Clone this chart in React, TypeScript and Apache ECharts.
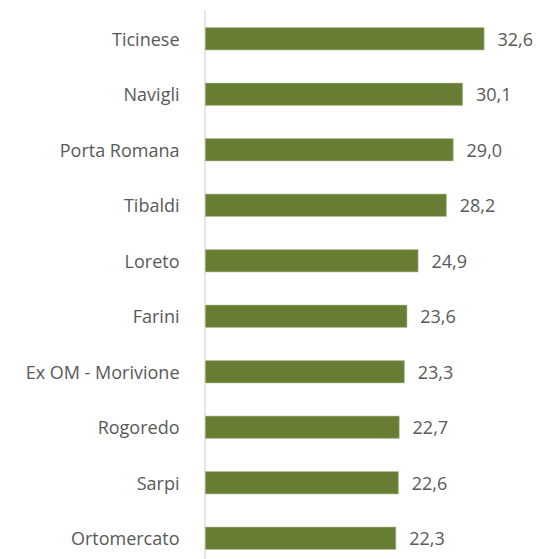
import React, { useEffect, useRef } from "react";
import * as echarts from "echarts";

const categories = [
  "Ticinese",
  "Navigli",
  "Porta Romana",
  "Tibaldi",
  "Loreto",
  "Farini",
  "Ex OM - Morivione",
  "Rogoredo",
  "Sarpi",
  "Ortomercato",
];
const values = [32.6, 30.1, 29.0, 28.2, 24.9, 23.6, 23.3, 22.7, 22.6, 22.3];

const FONT = "'Open Sans', 'Noto Sans', sans-serif";

export default function App() {
  const ref = useRef<HTMLDivElement>(null);
  useEffect(() => {
    if (!ref.current) return;
    const chart = echarts.init(ref.current, null, { renderer: "svg" });
    chart.setOption({
      animation: false,
      backgroundColor: "#ffffff",
      grid: { left: 205, top: 11, width: 300, height: 555, containLabel: false },
      xAxis: {
        type: "value",
        min: 0,
        max: 35,
        show: false,
      },
      yAxis: {
        type: "category",
        data: categories,
        inverse: true,
        offset: 1.5,
        axisLine: { show: true, lineStyle: { color: "#e6e6e6", width: 2 } },
        axisTick: { show: false },
        splitLine: { show: false },
        axisLabel: {
          margin: 24,
          fontFamily: FONT,
          fontSize: 18,
          color: "#595959",
        },
      },
      series: [
        {
          type: "bar",
          data: values,
          barWidth: 23,
          itemStyle: { color: "#687D34", borderColor: "#b5c29a", borderWidth: 0.6 },
          label: {
            show: true,
            position: "right",
            distance: 13,
            fontFamily: FONT,
            fontSize: 18,
            color: "#595959",
            formatter: (p: any) => p.value.toFixed(1).replace(".", ","),
          },
        },
      ],
    });
    return () => chart.dispose();
  }, []);
  return (
    <div
      ref={ref}
      style={{ position: "fixed", left: 0, top: 0, width: 540, height: 580 }}
    />
  );
}
